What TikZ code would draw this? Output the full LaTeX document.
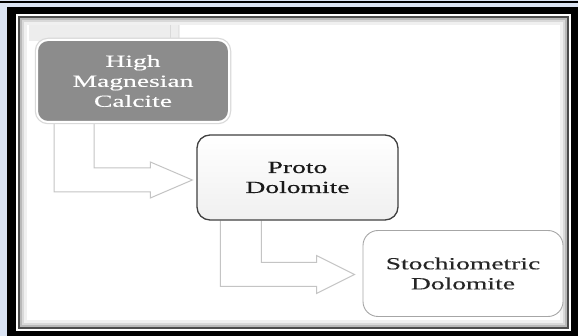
\documentclass[tikz,border=0pt]{standalone}
\usepackage{fontspec}
\setmainfont[FakeStretch=1.62,FakeBold=0.3]{Liberation Serif}
\usetikzlibrary{calc}
\definecolor{bgblue}{HTML}{DAE3F3}
\definecolor{boxgray}{HTML}{8C8C8C}
\definecolor{arrowgray}{HTML}{C4C4C4}
\pgfdeclarelayer{bg}
\pgfdeclarelayer{mid}
\pgfsetlayers{bg,mid,main}
\begin{document}
\begin{tikzpicture}[x=1pt,y=-1pt,
  stagebox/.style={align=center, inner sep=0pt, font=\fontsize{17}{20}\selectfont},
  flowarrow/.style={draw=arrowgray, line width=1pt, fill=white, line join=miter}]
\useasboundingbox (0,0) rectangle (578,336);
\begin{pgfonlayer}{bg}
  \fill[bgblue] (0,0) rectangle (578,336);
  \fill[black] (0,0.8) rectangle (578,3.2);
  \fill[black] (7,7) rectangle (578,336);
  \fill[white] (16,14) rectangle (571,331);
  \fill[black!70] (18,16) rectangle (569,329);
  \fill[gray!55] (20,18) rectangle (567,327);
  \fill[gray!30] (22,20) rectangle (565,325);
  \fill[gray!12] (24,22) rectangle (563,323);
  \fill[white] (27,25) rectangle (560,320);
  \fill[gray!14] (29,25) rectangle (180,41);
  \draw[gray!30, line width=1pt] (170,25) -- (170,41);
  \draw[gray!22, line width=1pt] (178,25) -- (178,41);
\end{pgfonlayer}

\node[stagebox, fill=boxgray, draw=white, line width=2pt, text=white,
      preaction={draw=gray!30, line width=4.5pt},
      rounded corners=11pt, minimum width=192pt, minimum height=82pt]
      (hmc) at (133,81) {High\\Magnesian\\Calcite};
\node[stagebox, draw=black!75, line width=1.3pt, top color=white, middle color=white,
      bottom color=gray!12, text=black!90,
      rounded corners=13pt, minimum width=201pt, minimum height=85pt]
      (proto) at (297.5,177.5) {Proto\\Dolomite};
\node[stagebox, draw=gray!70, line width=0.9pt, fill=white, text=black!85,
      rounded corners=15pt, minimum width=200pt, minimum height=86pt]
      (stoich) at (463,273.5) {Stochiometric\\Dolomite};

\begin{pgfonlayer}{mid}
  \coordinate (a1o) at ($(hmc.south west)+(18,0)$);
  \coordinate (a1i) at ($(hmc.south west)+(58,0)$);
  \coordinate (t1) at ($(proto.west)+(-4,2.5)$);
  \draw[flowarrow] (a1o) -- (a1o |- {$(t1)+(0,12)$}) -- ($(t1)+(-42,12)$)
     -- ($(t1)+(-42,18)$) -- (t1) -- ($(t1)+(-42,-18)$) -- ($(t1)+(-42,-12)$)
     -- (a1i |- {$(t1)+(0,-12)$}) -- (a1i);
  \coordinate (a2o) at ($(proto.south west)+(24,0)$);
  \coordinate (a2i) at ($(proto.south west)+(65,0)$);
  \coordinate (t2) at ($(stoich.west)+(-8,1)$);
  \draw[flowarrow] (a2o) -- (a2o |- {$(t2)+(0,12)$}) -- ($(t2)+(-38,12)$)
     -- ($(t2)+(-38,19)$) -- (t2) -- ($(t2)+(-38,-19)$) -- ($(t2)+(-38,-12)$)
     -- (a2i |- {$(t2)+(0,-12)$}) -- (a2i);
\end{pgfonlayer}
\end{tikzpicture}
\end{document}
